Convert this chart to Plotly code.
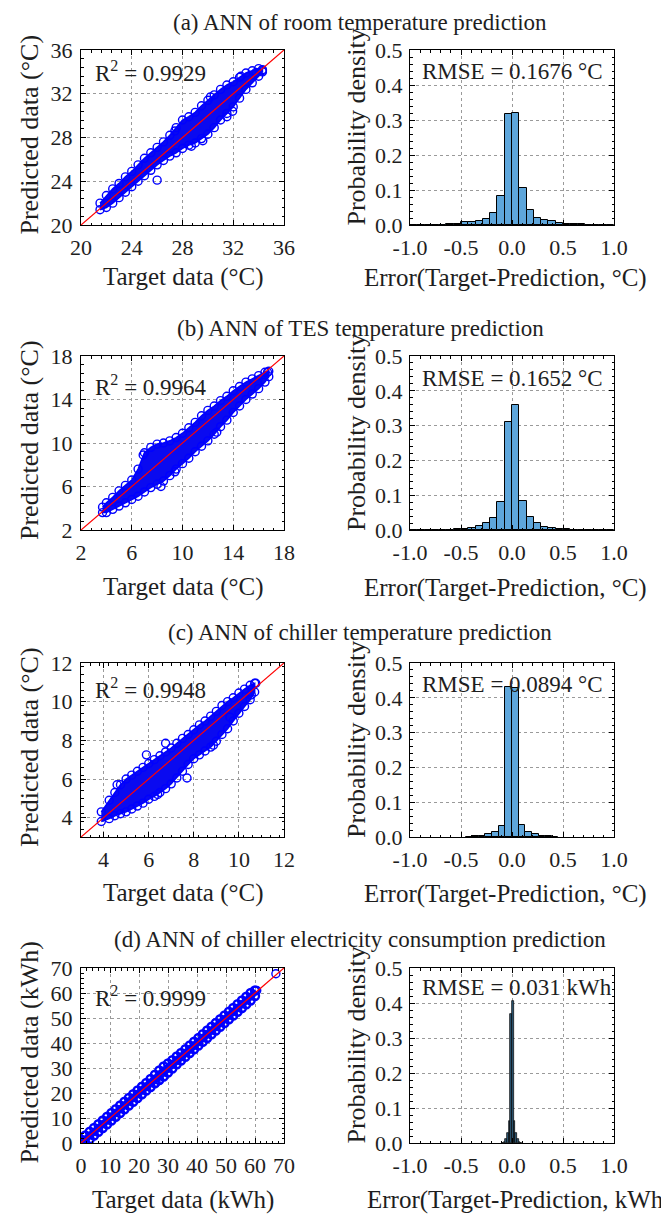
import plotly.graph_objects as go

W, H = 661, 1214
FONT = "Liberation Serif, Times New Roman, serif"
TXT = "#1e1e1e"

# ---------------- data ----------------
titles = ["(a) ANN of room temperature prediction",
          "(b) ANN of TES temperature prediction",
          "(c) ANN of chiller temperature prediction",
          "(d) ANN of chiller electricity consumption prediction"]
r2_values = ["0.9929", "0.9964", "0.9948", "0.9999"]
rmse_labels = ["RMSE = 0.1676 °C", "RMSE = 0.1652 °C", "RMSE = 0.0894 °C", "RMSE = 0.031 kWh"]
scatter_xtitles = ["Target data (°C)", "Target data (°C)", "Target data (°C)", "Target data (kWh)"]
scatter_ytitles = ["Predicted data (°C)", "Predicted data (°C)", "Predicted data (°C)", "Predicted data (kWh)"]
hist_xtitles = ["Error(Target-Prediction, °C)", "Error(Target-Prediction, °C)",
                "Error(Target-Prediction, °C)", "Error(Target-Prediction, kWh)"]

# axis limits / ticks of scatter panels
scatter_ranges = [[20, 36], [2, 18], [3, 12], [0, 70]]
scatter_xticks = [[20, 24, 28, 32, 36], [2, 6, 10, 14, 18], [4, 6, 8, 10, 12], [0, 10, 20, 30, 40, 50, 60, 70]]
scatter_yticks = [[20, 24, 28, 32, 36], [2, 6, 10, 14, 18], [4, 6, 8, 10, 12], [0, 10, 20, 30, 40, 50, 60, 70]]
hist_xticks = [-1.0, -0.5, 0.0, 0.5, 1.0]
hist_xticktext = ["-1.0", "-0.5", "0.0", "0.5", "1.0"]
hist_yticks = [0.0, 0.1, 0.2, 0.3, 0.4, 0.5]
hist_yticktext = ["0.0", "0.1", "0.2", "0.3", "0.4", "0.5"]

# (a) room temperature: dense cloud envelope + scattered points
a_env_x = [21.5, 22.0, 22.5, 23.0, 23.5, 24.0, 24.5, 25.0, 25.5, 26.0, 26.5, 27.0, 27.5, 28.0,
           28.5, 29.0, 29.5, 30.0, 30.5, 31.0, 31.5, 32.0, 32.5, 33.0, 33.5, 34.0, 34.3]
a_env_hi = [22.0, 22.7, 23.3, 23.8, 24.4, 24.9, 25.5, 26.1, 26.6, 27.1, 27.6, 28.2, 28.9, 29.6,
            29.9, 30.3, 30.9, 31.4, 31.9, 32.4, 32.8, 33.1, 33.5, 33.9, 34.1, 34.3, 34.2]
a_env_lo = [21.4, 21.6, 22.0, 22.5, 23.0, 23.5, 24.0, 24.5, 25.0, 25.5, 25.9, 26.3, 26.6, 27.0,
            27.3, 27.5, 27.9, 28.3, 28.9, 29.6, 30.2, 30.8, 31.6, 32.4, 33.0, 33.6, 34.0]
a_pts_x = [26.0, 28.7, 29.6, 31.5, 31.95, 33.8, 34.3, 27.4, 30.2, 32.6]
a_pts_y = [24.1, 27.2, 27.7, 29.9, 30.4, 33.95, 34.1, 28.6, 31.7, 33.6]

# (b) TES temperature
b_env_x = [3.7, 4.0, 4.5, 5.0, 5.5, 6.0, 6.5, 7.0, 7.5, 8.0, 8.5, 9.0, 9.5, 10.0, 10.5, 11.0,
           11.5, 12.0, 12.5, 13.0, 13.5, 14.0, 14.5, 15.0, 15.5, 16.0, 16.5, 16.8]
b_env_hi = [4.1, 4.5, 5.0, 5.6, 6.1, 6.6, 7.6, 9.1, 9.6, 9.9, 10.0, 10.2, 10.5, 10.9, 11.4, 11.9,
            12.5, 13.0, 13.4, 13.9, 14.3, 14.8, 15.2, 15.6, 15.9, 16.2, 16.5, 16.6]
b_env_lo = [3.6, 3.6, 3.9, 4.2, 4.5, 4.8, 5.1, 5.5, 5.9, 6.2, 6.5, 7.0, 7.6, 8.1, 8.6, 9.2,
            9.7, 10.2, 10.8, 11.5, 12.1, 12.8, 13.4, 14.0, 14.5, 15.0, 15.6, 16.1]
b_pts_x = [9.4, 8.3, 16.7, 6.9, 12.7]
b_pts_y = [7.35, 6.0, 16.5, 8.9, 11.0]

# (c) chiller temperature
c_env_x = [3.9, 4.25, 4.5, 4.75, 5.0, 5.25, 5.5, 5.75, 6.0, 6.25, 6.5, 6.75, 7.0, 7.25, 7.5, 7.75,
           8.0, 8.25, 8.5, 8.75, 9.0, 9.25, 9.5, 9.75, 10.0, 10.25, 10.5, 10.7]
c_env_hi = [4.3, 4.9, 5.3, 5.7, 6.0, 6.2, 6.4, 6.6, 6.8, 7.0, 7.2, 7.4, 7.6, 7.85, 8.1, 8.3,
            8.55, 8.8, 9.0, 9.25, 9.5, 9.8, 10.0, 10.2, 10.45, 10.65, 10.85, 10.95]
c_env_lo = [3.8, 3.95, 4.1, 4.2, 4.3, 4.45, 4.6, 4.75, 4.95, 5.1, 5.3, 5.5, 5.75, 6.05, 6.4, 6.75,
            7.05, 7.25, 7.45, 7.65, 7.95, 8.3, 8.6, 9.0, 9.4, 9.75, 10.1, 10.5]
c_pts_x = [4.6, 5.9, 6.75, 7.7, 8.87, 10.75, 10.55, 9.6, 6.4]
c_pts_y = [5.7, 7.25, 7.85, 6.05, 7.75, 10.95, 10.35, 9.2, 5.2]

# (d) chiller electricity
d_env_x = [0.0, 1.5, 3.0, 4.5, 6.0, 7.5, 9.0, 10.5, 12.0, 13.5, 15.0, 16.5, 18.0, 19.5, 21.0,
           22.5, 24.0, 25.5, 27.0, 28.5, 30.0, 31.5, 33.0, 34.5, 36.0, 37.5, 39.0, 40.5, 42.0,
           43.5, 45.0, 46.5, 48.0, 49.5, 51.0, 52.5, 54.0, 55.5, 57.0, 58.5, 60.0]
d_env_hi = [1.4, 3.0, 4.5, 6.0, 7.5, 9.0, 10.5, 12.0, 13.5, 15.0, 16.5, 18.0, 19.5, 21.0, 22.5,
            24.0, 25.6, 27.3, 29.0, 30.6, 31.8, 33.1, 34.6, 36.0, 37.5, 39.0, 40.5, 42.0, 43.5,
            45.0, 46.5, 48.0, 49.5, 51.0, 52.5, 54.0, 55.5, 57.0, 58.5, 60.0, 61.0]
d_env_lo = [-1.0, 0.0, 1.5, 3.0, 4.5, 6.0, 7.5, 9.0, 10.5, 12.0, 13.5, 15.0, 16.5, 18.0, 19.5,
            21.0, 22.4, 23.9, 25.2, 26.6, 28.2, 29.8, 31.5, 33.0, 34.5, 36.0, 37.5, 39.0, 40.5,
            42.0, 43.5, 45.0, 46.5, 48.0, 49.5, 51.0, 52.5, 54.0, 55.5, 57.0, 58.8]
d_pts_x = [25.9, 60.6, 67.2]
d_pts_y = [24.2, 61.0, 67.7]

# histograms (probability per bin)
a_bin_w = 0.0714
a_centers = [-0.964, -0.893, -0.821, -0.750, -0.679, -0.607, -0.536, -0.464, -0.393, -0.321,
             -0.250, -0.179, -0.107, -0.036, 0.036, 0.107, 0.179, 0.250, 0.321, 0.393, 0.464,
             0.536, 0.607, 0.679, 0.750, 0.821, 0.893, 0.964]
a_density = [0.0005, 0.0005, 0.0008, 0.001, 0.0012, 0.0015, 0.003, 0.0075, 0.009, 0.012, 0.017,
             0.035, 0.082, 0.318, 0.321, 0.106, 0.044, 0.021, 0.015, 0.011, 0.007, 0.003, 0.002,
             0.0015, 0.001, 0.0008, 0.0005, 0.0005]
b_bin_w = 0.0714
b_centers = a_centers
b_density = [0.0003, 0.0003, 0.0005, 0.0006, 0.0008, 0.001, 0.002, 0.004, 0.0067, 0.0115, 0.019,
             0.034, 0.080, 0.310, 0.359, 0.082, 0.037, 0.019, 0.0096, 0.005, 0.003, 0.002, 0.001,
             0.0008, 0.0006, 0.0005, 0.0003, 0.0003]
c_bin_w = 0.065
c_centers = [-0.4225, -0.3575, -0.2925, -0.2275, -0.1625, -0.0975, -0.0325, 0.0325, 0.0975,
             0.1625, 0.2275, 0.2925, 0.3575, 0.4225]
c_density = [0.001, 0.002, 0.004, 0.0086, 0.015, 0.032, 0.432, 0.428, 0.034, 0.015, 0.0086,
             0.004, 0.002, 0.001]
d_bin_w = 0.0165
d_centers = [-0.0908, -0.0743, -0.0578, -0.0413, -0.0248, -0.0083, 0.0083, 0.0248, 0.0413,
             0.0578, 0.0743, 0.0908]
d_density = [0.001, 0.004, 0.012, 0.03, 0.064, 0.37, 0.405, 0.064, 0.03, 0.012, 0.004, 0.001]

scatter_sets = [(a_env_x, a_env_hi, a_env_lo, a_pts_x, a_pts_y),
                (b_env_x, b_env_hi, b_env_lo, b_pts_x, b_pts_y),
                (c_env_x, c_env_hi, c_env_lo, c_pts_x, c_pts_y),
                (d_env_x, d_env_hi, d_env_lo, d_pts_x, d_pts_y)]
hist_sets = [(a_centers, a_density, a_bin_w), (b_centers, b_density, b_bin_w),
             (c_centers, c_density, c_bin_w), (d_centers, d_density, d_bin_w)]

# ---------------- layout geometry (pixels) ----------------
SC_X = (81, 284)
HI_X = (410, 614)
ROWS = [(50, 225), (356, 530), (663, 837), (968, 1143)]
TITLE_Y = [22, 329, 632, 939]
XTITLE_Y = [277, 587, 893, 1200]
R2_Y = [71.5, 385.5, 688.5, 996]
RMSE_Y = [71.5, 378.5, 684.5, 987.5]
MARKER_LW = [1.4, 1.4, 1.4, 2.4]


def fx(p):
    return p / W


def fy(p):
    return 1 - p / H


BLUE = "#0000ff"
HIST_FILL = ["rgb(94,166,219)", "rgb(94,166,219)", "rgb(94,166,219)", "rgb(44,88,118)"]

fig = go.Figure()
layout = {}
annotations = []

axis_common = dict(showline=True, linecolor="black", linewidth=1, mirror="allticks",
                   ticks="inside", ticklen=5, tickcolor="black", tickwidth=1,
                   showgrid=True, gridcolor="#9a9a9a", griddash="dot", gridwidth=1,
                   zeroline=False, fixedrange=True, automargin=False,
                   tickfont=dict(size=22, family=FONT, color=TXT))

for i in range(4):
    top, bot = ROWS[i]
    sx, sy = f"x{2*i+1}", f"y{2*i+1}"
    hx, hy = f"x{2*i+2}", f"y{2*i+2}"
    sxa, sya = f"xaxis{2*i+1}", f"yaxis{2*i+1}"
    hxa, hya = f"xaxis{2*i+2}", f"yaxis{2*i+2}"

    env_x, env_hi, env_lo, pts_x, pts_y = scatter_sets[i]
    rng = scatter_ranges[i]
    msize = 8
    mlw = MARKER_LW[i]
    # dense cloud as filled envelope with circle markers on its edge
    fig.add_trace(go.Scatter(x=env_x + env_x[::-1], y=env_hi + env_lo[::-1],
                             mode="lines+markers", fill="toself", fillcolor="rgb(10,10,240)",
                             line=dict(color=BLUE, width=1.5),
                             marker=dict(symbol="circle-open", size=msize, color=BLUE,
                                         line=dict(width=mlw, color=BLUE)),
                             xaxis=sx, yaxis=sy, showlegend=False, hoverinfo="skip"))
    fig.add_trace(go.Scatter(x=pts_x, y=pts_y, mode="markers",
                             marker=dict(symbol="circle-open", size=msize, color=BLUE,
                                         line=dict(width=1.4, color=BLUE)),
                             xaxis=sx, yaxis=sy, showlegend=False))
    fig.add_trace(go.Scatter(x=rng, y=rng, mode="lines", line=dict(color="red", width=1.2),
                             xaxis=sx, yaxis=sy, showlegend=False))

    centers, dens, bw = hist_sets[i]
    fig.add_trace(go.Bar(x=centers, y=dens, width=bw,
                         marker=dict(color=HIST_FILL[i], line=dict(color="black", width=1 if i < 3 else 0.7)),
                         xaxis=hx, yaxis=hy, showlegend=False))

    dom_y = [fy(bot), fy(top)]
    xt = scatter_xticks[i]
    yt = scatter_yticks[i]
    step = xt[1] - xt[0]
    layout[sxa] = dict(axis_common, domain=[fx(SC_X[0]), fx(SC_X[1])], range=rng, anchor=sy,
                       tickmode="array", tickvals=xt, ticktext=[str(v) for v in xt],
                       ticklabelstandoff=3,
                       minor=dict(ticks="inside", ticklen=2.5, tickcolor="black", dtick=step / 5,
                                  tick0=rng[0], showgrid=False))
    layout[sya] = dict(axis_common, domain=dom_y, range=rng, anchor=sx,
                       tickmode="array", tickvals=yt, ticktext=[str(v) for v in yt],
                       ticklabelstandoff=3,
                       minor=dict(ticks="inside", ticklen=2.5, tickcolor="black", dtick=step / 5,
                                  tick0=rng[0], showgrid=False))
    layout[hxa] = dict(axis_common, domain=[fx(HI_X[0]), fx(HI_X[1])], range=[-1, 1], anchor=hy,
                       tickmode="array", tickvals=hist_xticks, ticktext=hist_xticktext,
                       ticklabelstandoff=3,
                       minor=dict(ticks="inside", ticklen=2.5, tickcolor="black", dtick=0.1,
                                  tick0=0, showgrid=False))
    layout[hya] = dict(axis_common, domain=dom_y, range=[0, 0.5], anchor=hx,
                       tickmode="array", tickvals=hist_yticks, ticktext=hist_yticktext,
                       ticklabelstandoff=2,
                       minor=dict(ticks="inside", ticklen=2.5, tickcolor="black", dtick=0.02,
                                  tick0=0, showgrid=False))

    # panel title
    annotations.append(dict(text=titles[i], x=fx(360), y=fy(TITLE_Y[i]), xref="paper", yref="paper",
                            xanchor="center", yanchor="middle", showarrow=False,
                            font=dict(size=23, family=FONT, color=TXT)))
    # x-axis titles
    annotations.append(dict(text=scatter_xtitles[i], x=fx(183), y=fy(XTITLE_Y[i]), xref="paper",
                            yref="paper", xanchor="center", yanchor="middle", showarrow=False,
                            font=dict(size=25, family=FONT, color=TXT)))
    if i < 3:
        annotations.append(dict(text=hist_xtitles[i], x=fx(505), y=fy(XTITLE_Y[i] + 1), xref="paper",
                                yref="paper", xanchor="center", yanchor="middle", showarrow=False,
                                font=dict(size=25, family=FONT, color=TXT)))
    else:
        annotations.append(dict(text=hist_xtitles[i], x=fx(365), y=fy(XTITLE_Y[i]), xref="paper",
                                yref="paper", xanchor="left", yanchor="middle", showarrow=False,
                                font=dict(size=25, family=FONT, color=TXT)))
    # y-axis titles
    mid = (top + bot) / 2
    annotations.append(dict(text=scatter_ytitles[i], x=fx(29), y=fy(mid - 3), xref="paper", yref="paper",
                            xanchor="center", yanchor="middle", textangle=-90, showarrow=False,
                            font=dict(size=26, family=FONT, color=TXT)))
    annotations.append(dict(text="Probability density", x=fx(356), y=fy(mid - 10), xref="paper",
                            yref="paper", xanchor="center", yanchor="middle", textangle=-90,
                            showarrow=False, font=dict(size=26, family=FONT, color=TXT)))
    # R^2 and RMSE
    annotations.append(dict(text="R<sup>2</sup> = " + r2_values[i], x=fx(93), y=fy(R2_Y[i]),
                            xref="paper", yref="paper", xanchor="left", yanchor="middle",
                            showarrow=False, font=dict(size=23, family=FONT, color=TXT)))
    annotations.append(dict(text=rmse_labels[i], x=fx(420), y=fy(RMSE_Y[i]), xref="paper",
                            yref="paper", xanchor="left", yanchor="middle", showarrow=False,
                            font=dict(size=23, family=FONT, color=TXT)))

fig.update_layout(**layout)
fig.update_layout(width=W, height=H, margin=dict(l=0, r=0, t=0, b=0, autoexpand=False),
                  paper_bgcolor="white", plot_bgcolor="white", annotations=annotations,
                  bargap=0, showlegend=False, font=dict(family=FONT, color=TXT))
fig.write_html("out.html")
